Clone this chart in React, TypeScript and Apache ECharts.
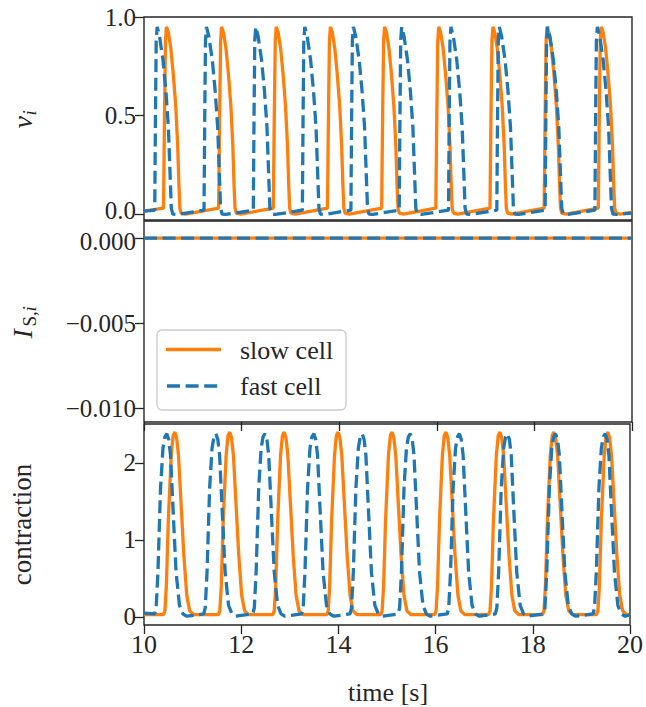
import React, { useEffect, useRef } from "react";
import * as echarts from "echarts";

// ---------- data ----------
const xTicks = [10, 12, 14, 16, 18, 20];
const vTicks = [0, 0.5, 1.0];
const iTicks = [-0.01, -0.005, 0];
const cTicks = [0, 1, 2];

// upstroke times of each action potential [s]
const slowOnsets = [10.4, 11.53, 12.65, 13.76, 14.87, 15.98, 17.09, 18.2, 19.31];
const fastOnsets = [10.22, 11.23, 12.24, 13.245, 14.24, 15.23, 16.24, 17.23, 18.22, 19.24];

// shape of one beat, [time after upstroke, value]
const slowVoltageShape = [
  [0, 0.03], [0.02, 0.5], [0.04, 0.88], [0.06, 0.95], [0.1, 0.92], [0.15, 0.84],
  [0.2, 0.71], [0.25, 0.55], [0.29, 0.35], [0.315, 0.15], [0.335, 0.03], [0.36, 0.005], [0.45, 0.0],
];
const fastVoltageShape = [
  [0, 0.02], [0.015, 0.5], [0.03, 0.88], [0.05, 0.95], [0.1, 0.9], [0.17, 0.78],
  [0.23, 0.62], [0.28, 0.44], [0.315, 0.2], [0.34, 0.03], [0.37, 0.0], [0.45, -0.002],
];
const slowContractionShape = [
  [0, 0.03], [0.03, 0.08], [0.06, 0.4], [0.1, 1.25], [0.16, 2.1], [0.2, 2.36], [0.235, 2.4],
  [0.27, 2.33], [0.31, 2.1], [0.365, 1.45], [0.42, 0.8], [0.48, 0.28], [0.54, 0.08], [0.62, 0.03],
];
const fastContractionShape = [
  [0, 0.04], [0.03, 0.12], [0.067, 0.58], [0.12, 1.67], [0.17, 2.19], [0.21, 2.34], [0.25, 2.38],
  [0.29, 2.3], [0.326, 2.1], [0.374, 1.45], [0.44, 0.58], [0.51, 0.15], [0.58, 0.04], [0.66, 0.01],
];
// values at the window edges (t = 10 s and t = 20 s)
const slowVoltageEdges = [0.015, 0.01];
const fastVoltageEdges = [0.015, 0.005];
const slowContractionEdges = [0.03, 0.02];
const fastContractionEdges = [0.05, 0.03];

// synaptic current: flat at zero
const currentTimes = [10, 20];
const slowCurrent = [0, 0];
const fastCurrent = [0, 0];

const ORANGE = "#ff7f0e";
const BLUE = "#1f77b4";
const INK = "#262626";
const FONT = "Liberation Serif";
const DASH = [13, 5.6];
const LW = 3.3;
const FS = 26;
const YFS = 25;

function beats(onsets: number[], shape: number[][], edges: number[]) {
  const pts: number[][] = [[10, edges[0]]];
  onsets.forEach((t0) => shape.forEach(([dt, v]) => pts.push([+(t0 + dt).toFixed(4), v])));
  pts.push([20, edges[1]]);
  return pts;
}

const minus = (s: string) => s.replace("-", "\u2212");

export default function App() {
  const ref = useRef<HTMLDivElement>(null);
  useEffect(() => {
    if (!ref.current) return;
    const chart = echarts.init(ref.current, undefined, { renderer: "svg" });
    const grids = [
      { left: 144, right: 14, top: 17, height: 203 },
      { left: 144, right: 14, top: 221, height: 201 },
      { left: 144, right: 14, top: 424, height: 201 },
    ].map((g) => ({ ...g, show: true, borderColor: INK, borderWidth: 1.4, backgroundColor: "transparent", containLabel: false }));

    const tickStyle = { color: INK, width: 1.3 };
    const labelStyle = { color: INK, fontFamily: FONT, fontSize: FS };
    const xAxis = [0, 1, 2].map((i) => ({
      type: "value",
      gridIndex: i,
      min: 10,
      max: 20,
      interval: 2,
      axisLine: { show: false, onZero: false },
      axisTick: { show: i > 0, length: 9, lineStyle: tickStyle },
      axisLabel: { show: i === 2, margin: 6, ...labelStyle },
      splitLine: { show: false },
    }));
    const rich = {
      lo: { color: INK, fontFamily: FONT, fontSize: YFS, padding: [0, 0, 7, 0] },
      hi: { color: INK, fontFamily: FONT, fontSize: YFS, padding: [7, 0, 0, 0] },
    };
    const yDefs = [
      { min: -0.03, max: 1.0, ticks: vTicks, fmt: (v: number) => (v === 0 ? "{lo|0.0}" : v.toFixed(1)) },
      { min: -0.0108, max: 0.001, ticks: iTicks, fmt: (v: number) => (v === 0 ? "{hi|0.000}" : minus(v.toFixed(3))) },
      { min: -0.104, max: 2.506, ticks: cTicks, fmt: (v: number) => String(Math.round(v)) },
    ];
    const yAxis = yDefs.map((d, i) => ({
      type: "value",
      gridIndex: i,
      min: d.min,
      max: d.max,
      axisLine: { show: false, onZero: false },
      axisTick: { show: true, length: 9, lineStyle: tickStyle, customValues: d.ticks },
      axisLabel: { margin: 8, customValues: d.ticks, formatter: d.fmt, ...labelStyle, fontSize: YFS, rich },
      splitLine: { show: false },
    }));

    const line = (name: string, idx: number, data: number[][], dashed: boolean) => ({
      name,
      type: "line",
      xAxisIndex: idx,
      yAxisIndex: idx,
      data,
      showSymbol: false,
      symbol: "none",
      lineStyle: { color: dashed ? BLUE : ORANGE, width: LW, type: dashed ? DASH : "solid", cap: "butt" },
      itemStyle: { color: dashed ? BLUE : ORANGE },
    });

    const series = [
      line("slow cell", 0, beats(slowOnsets, slowVoltageShape, slowVoltageEdges), false),
      line("fast cell", 0, beats(fastOnsets, fastVoltageShape, fastVoltageEdges), true),
      line("slow cell", 1, currentTimes.map((t, k) => [t, slowCurrent[k]]), false),
      line("fast cell", 1, currentTimes.map((t, k) => [t, fastCurrent[k]]), true),
      line("slow cell", 2, beats(slowOnsets, slowContractionShape, slowContractionEdges), false),
      line("fast cell", 2, beats(fastOnsets, fastContractionShape, fastContractionEdges), true),
    ];

    const txt = (text: string, x: number, y: number, size: number, italic = false, align = "left") => ({
      type: "text",
      x,
      y,
      style: {
        text,
        fill: INK,
        fontFamily: FONT,
        fontSize: size,
        fontStyle: italic ? "italic" : "normal",
        textAlign: align,
        align,
        textVerticalAlign: "middle",
        verticalAlign: "middle",
      },
    });

    const graphic = [
      // y labels (rotated)
      {
        type: "group", x: 22, y: 118.5, rotation: Math.PI / 2,
        children: [txt("v", -10, 0, 28, true), txt("i", 3, 7, 19, true)],
      },
      {
        type: "group", x: 22, y: 321.5, rotation: Math.PI / 2,
        children: [txt("I", -17, 0, 28, true), txt("S,", -5, 7, 19), txt("i", 10, 7, 19, true)],
      },
      {
        type: "group", x: 22, y: 524.5, rotation: Math.PI / 2,
        children: [txt("contraction", 0, 0, 27, false, "center")],
      },
      txt("time [s]", 388, 692, FS, false, "center"),
      // legend
      {
        type: "rect",
        shape: { x: 157, y: 330, width: 189, height: 80, r: 5 },
        style: { fill: "rgba(255,255,255,0.85)", stroke: "#cccccc", lineWidth: 1.3 },
        z: 50,
      },
      {
        type: "line", z: 51,
        shape: { x1: 166, y1: 349.5, x2: 221, y2: 349.5 },
        style: { stroke: ORANGE, lineWidth: LW },
      },
      {
        type: "line", z: 51,
        shape: { x1: 167, y1: 386, x2: 221, y2: 386 },
        style: { stroke: BLUE, lineWidth: LW, lineDash: DASH },
      },
      { ...txt("slow cell", 240, 350, FS), z: 51 },
      { ...txt("fast cell", 240, 386, FS), z: 51 },
    ];

    chart.setOption({
      animation: false,
      backgroundColor: "#ffffff",
      textStyle: { fontFamily: FONT },
      grid: grids,
      xAxis,
      yAxis,
      series,
      graphic,
    } as any);
    return () => chart.dispose();
  }, []);
  return <div ref={ref} style={{ width: 646, height: 707, position: "absolute", left: 0, top: 0 }} />;
}
